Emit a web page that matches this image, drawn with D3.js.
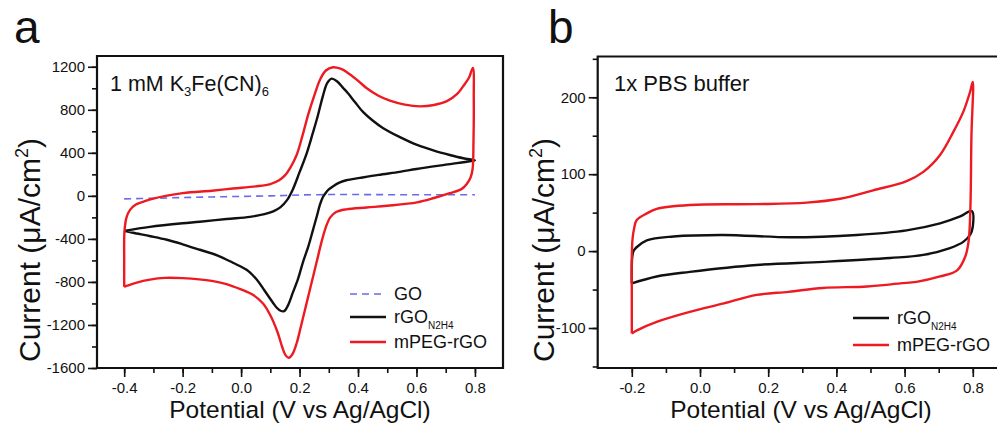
<!DOCTYPE html>
<html><head><meta charset="utf-8">
<script src="https://cdn.jsdelivr.net/npm/d3@7/dist/d3.min.js"></script>
<style>
html,body{margin:0;padding:0;background:#fff;}
svg{display:block;font-family:"Liberation Sans",Arial,sans-serif;}
</style></head>
<body>
<svg id="chart" width="997" height="429"></svg>
<script>
// ---------- DATA ----------
// Panel a: 1 mM K3Fe(CN)6, potential (V) vs current density (uA/cm2)
const aXTicks = [-0.4, -0.2, 0.0, 0.2, 0.4, 0.6, 0.8];
const aYTicks = [-1600, -1200, -800, -400, 0, 400, 800, 1200];
const aGO = [[-0.4,-28],[-0.3,-22],[-0.2,-16],[-0.1,-10],[0.0,-5],[0.1,0],[0.15,4],[0.2,8],[0.3,12],[0.4,12],[0.5,11],[0.6,10],[0.7,10],[0.8,10]];
const aRGO = [[-0.4,-325],[-0.312,-288],[-0.2,-255],[-0.141,-241],[-0.05,-215],[0.03,-195],[0.08,-170],[0.11,-145],[0.135,-105],[0.157,-40],[0.177,60],[0.2,220],[0.225,400],[0.245,580],[0.262,740],[0.28,930],[0.295,1050],[0.31,1090],[0.328,1065],[0.35,1000],[0.362,965],[0.39,870],[0.417,780],[0.45,700],[0.485,631],[0.54,550],[0.602,473],[0.66,420],[0.714,380],[0.76,350],[0.8,330],
  [0.783,322],[0.7,290],[0.6,250],[0.543,223],[0.47,195],[0.407,167],[0.36,145],[0.338,125],[0.315,90],[0.3,60],[0.29,30],[0.28,-10],[0.27,-80],[0.26,-180],[0.246,-316],[0.23,-470],[0.211,-622],[0.195,-770],[0.177,-900],[0.16,-1020],[0.147,-1072],[0.135,-1068],[0.122,-1040],[0.109,-993],[0.08,-880],[0.054,-780],[0.02,-690],[-0.028,-622],[-0.08,-555],[-0.141,-501],[-0.2,-450],[-0.254,-408],[-0.31,-375],[-0.37,-343],[-0.4,-325]];
const aMPEG = [[-0.4,-845],[-0.4,-600],[-0.399,-330],[-0.392,-200],[-0.38,-130],[-0.36,-80],[-0.336,-56],[-0.3,-25],[-0.2,25],[-0.1,48],[-0.028,68],[0.05,88],[0.1,110],[0.13,145],[0.15,190],[0.17,270],[0.19,380],[0.21,560],[0.23,760],[0.25,930],[0.27,1080],[0.29,1165],[0.314,1195],[0.34,1182],[0.362,1150],[0.4,1070],[0.43,1000],[0.47,930],[0.509,885],[0.56,848],[0.612,832],[0.66,845],[0.704,880],[0.74,950],[0.76,1020],[0.78,1100],[0.793,1190],
  [0.796,900],[0.795,500],[0.792,250],[0.785,170],[0.772,110],[0.755,65],[0.714,25],[0.66,-20],[0.602,-60],[0.5,-92],[0.43,-108],[0.36,-125],[0.325,-150],[0.305,-200],[0.29,-290],[0.275,-430],[0.258,-620],[0.24,-820],[0.222,-1020],[0.205,-1210],[0.19,-1370],[0.176,-1470],[0.163,-1505],[0.152,-1480],[0.14,-1400],[0.125,-1270],[0.1,-1110],[0.075,-1000],[0.04,-920],[0.0,-870],[-0.05,-820],[-0.1,-790],[-0.2,-765],[-0.26,-762],[-0.312,-778],[-0.36,-808],[-0.39,-835],[-0.4,-845]];

// Panel b: 1x PBS buffer
const bXTicks = [-0.2, 0.0, 0.2, 0.4, 0.6, 0.8];
const bYTicks = [-100, 0, 100, 200];
const bRGO = [[-0.2,-42],[-0.2,-20],[-0.199,-9],[-0.195,0],[-0.186,5],[-0.156,14],[-0.078,19],[0.068,21],[0.264,18],[0.46,21],[0.606,27],[0.704,36],[0.763,45],[0.797,52],
  [0.8,32],[0.792,21],[0.772,12],[0.733,4],[0.655,-5],[0.557,-9],[0.362,-14],[0.166,-18],[-0.03,-27],[-0.127,-33],[-0.2,-42]];
const bMPEG = [[-0.2,-107],[-0.2,-60],[-0.2,-10],[-0.198,15],[-0.193,30],[-0.186,40],[-0.156,49],[-0.127,55],[-0.03,60],[0.166,61],[0.313,63],[0.411,68],[0.508,79],[0.606,91],[0.655,103],[0.704,125],[0.743,155],[0.772,181],[0.792,207],[0.8,220],
  [0.796,150],[0.793,57],[0.788,14],[0.778,-7],[0.754,-25],[0.704,-33],[0.635,-40],[0.587,-42],[0.49,-46],[0.36,-48],[0.26,-53],[0.166,-57],[0.07,-68],[-0.03,-79],[-0.127,-92],[-0.185,-103],[-0.2,-107]];

// ---------- DRAW ----------
const svg = d3.select("#chart");
svg.append("rect").attr("width",997).attr("height",429).attr("fill","#fff");

const RED = "#ee1a22", BLACK = "#111", BLUE = "#6a6aea";

function panel(cfg){
  const x = d3.scaleLinear().domain(cfg.xDomain).range(cfg.xRange);
  const y = d3.scaleLinear().domain(cfg.yDomain).range(cfg.yRange);
  const g = svg.append("g");
  const [x0,x1] = cfg.xRange, [y1,y0] = cfg.yRange;
  const cid = "clip"+cfg.id;
  svg.append("clipPath").attr("id",cid).append("rect").attr("x",x0).attr("y",y0).attr("width",x1-x0).attr("height",y1-y0);

  const xMinor = d3.range(cfg.xTicks[0]-0.1, cfg.xTicks[cfg.xTicks.length-1]+0.101, 0.1).filter(v=>v>=cfg.xDomain[0] && v<=cfg.xDomain[1]);
  const yMinor = d3.range(cfg.yTicks[0]-cfg.yStep/2, cfg.yTicks[cfg.yTicks.length-1]+cfg.yStep, cfg.yStep/2).filter(v=>v>=cfg.yDomain[0] && v<=cfg.yDomain[1]);
  const axX2 = g.append("g").attr("transform",`translate(0,${y1})`).call(d3.axisBottom(x).tickValues(xMinor).tickSize(5).tickFormat(""));
  const axY2 = g.append("g").attr("transform",`translate(${x0},0)`).call(d3.axisLeft(y).tickValues(yMinor).tickSize(5).tickFormat(""));
  const axX = g.append("g").attr("transform",`translate(0,${y1})`).call(d3.axisBottom(x).tickValues(cfg.xTicks).tickSize(9).tickPadding(5).tickFormat(d3.format(".1f")));
  const axY = g.append("g").attr("transform",`translate(${x0},0)`).call(d3.axisLeft(y).tickValues(cfg.yTicks).tickSize(9).tickPadding(3).tickFormat(d3.format("d")));
  [axX,axY,axX2,axY2].forEach(a=>{a.select(".domain").remove(); a.selectAll("line").attr("stroke","#111").attr("stroke-width",1.6);});
  [axX,axY].forEach(a=>a.selectAll("text").attr("font-size",15).attr("fill","#111").style("font-family","Liberation Sans, Arial, sans-serif"));
  axX.selectAll("text").text(d=>d3.format(".1f")(d).replace("\u2212","-"));
  axY.selectAll("text").text(d=>String(d));

  g.append("path").attr("d",`M${x0},${y1}V${y0}H${x1}V${y1}Z`).attr("fill","none").attr("stroke","#111").attr("stroke-width",2.2);

  const line = d3.line().x(d=>x(d[0])).y(d=>y(d[1])).curve(d3.curveCatmullRom.alpha(0.5));
  const cg = g.append("g").attr("clip-path",`url(#${cid})`);
  cfg.series.forEach(s=>{
    cg.append("path").datum(s.data).attr("d",line).attr("fill","none")
      .attr("stroke",s.color).attr("stroke-width",s.width||2.4)
      .attr("stroke-dasharray",s.dash||null).attr("stroke-linejoin","round");
  });

  g.append("text").attr("x",cfg.xTitleX).attr("y",418).attr("text-anchor","middle")
    .attr("font-size",24.5).attr("fill","#111").text("Potential (V vs Ag/AgCl)");
  const yt = g.append("text").attr("transform",`translate(${cfg.yTitleX},${cfg.yTitleY}) rotate(-90)`)
    .attr("text-anchor","middle").attr("font-size",30).attr("fill","#111");
  yt.append("tspan").text("Current (\u03BCA/cm");
  yt.append("tspan").attr("font-size",18).attr("dy",-12).text("2");
  yt.append("tspan").attr("dy",12).text(")");

  cfg.legend.forEach((L,i)=>{
    const ly = L.y;
    g.append("line").attr("x1",L.x).attr("x2",L.x+36).attr("y1",ly).attr("y2",ly)
      .attr("stroke",L.color).attr("stroke-width",L.dash?1.6:2.4).attr("stroke-dasharray",L.dash||null);
    const t = g.append("text").attr("x",L.x+44).attr("y",ly+6).attr("font-size",18).attr("fill","#111");
    t.append("tspan").text(L.label);
    if(L.sub){ t.append("tspan").attr("font-size",10).attr("dy",6).text(L.sub); }
  });
  return {x,y,g};
}

const pa = panel({
  id:"a", xDomain:[-0.493,0.896], xRange:[97,503], yDomain:[-1600,1300], yRange:[368,56],
  xTicks:aXTicks, yTicks:aYTicks, yStep:400,
  series:[
    {data:aGO,color:BLUE,width:1.6,dash:"7,5"},
    {data:aRGO,color:BLACK},
    {data:aMPEG,color:RED}
  ],
  xTitleX:300, yTitleX:40, yTitleY:250,
  legend:[
    {x:350,y:294,color:BLUE,dash:"7,5",label:"GO"},
    {x:350,y:317,color:BLACK,label:"rGO",sub:"N2H4"},
    {x:350,y:342,color:RED,label:"mPEG-rGO"}
  ]
});
const ta = pa.g.append("text").attr("x",110).attr("y",91).attr("font-size",21.5).attr("fill","#111");
ta.append("tspan").text("1 mM K");
ta.append("tspan").attr("font-size",13).attr("dy",5).text("3");
ta.append("tspan").attr("dy",-5).text("Fe(CN)");
ta.append("tspan").attr("font-size",13).attr("dy",5).text("6");

const pb = panel({
  id:"b", xDomain:[-0.3,0.9], xRange:[597.7,1006.9], yDomain:[-152,253], yRange:[368,56.5],
  xTicks:bXTicks, yTicks:bYTicks, yStep:100,
  series:[
    {data:bRGO,color:BLACK},
    {data:bMPEG,color:RED}
  ],
  xTitleX:801, yTitleX:554, yTitleY:250,
  legend:[
    {x:853,y:318,color:BLACK,label:"rGO",sub:"N2H4"},
    {x:853,y:345,color:RED,label:"mPEG-rGO"}
  ]
});
pb.g.append("text").attr("x",614).attr("y",91).attr("font-size",22).attr("fill","#111").text("1x PBS buffer");

svg.append("text").attr("x",14).attr("y",43).attr("font-size",46).attr("fill","#111").text("a");
svg.append("text").attr("x",548).attr("y",43).attr("font-size",46).attr("fill","#111").text("b");
</script>
</body></html>
